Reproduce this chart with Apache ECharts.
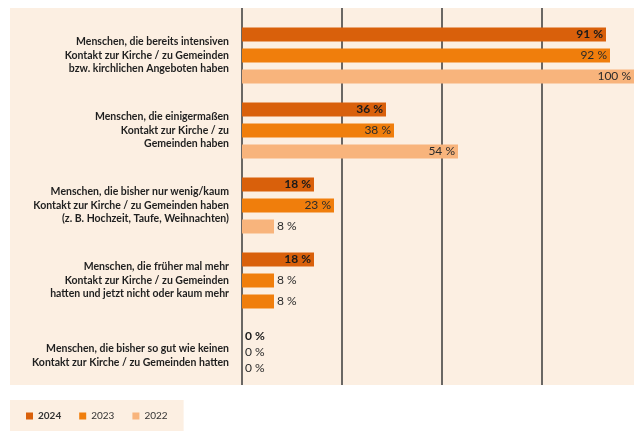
<!DOCTYPE html>
<html>
<head>
<meta charset="utf-8">
<script src="https://cdn.jsdelivr.net/npm/echarts@6/dist/echarts.min.js"></script>
<style>
  html, body { margin: 0; padding: 0; background: #fff; }
  #graph { width: 634px; height: 431px; }
</style>
</head>
<body>
<div id="graph"></div>
<script>
var categories = [
  'Menschen, die bereits intensiven\nKontakt zur Kirche / zu Gemeinden\nbzw. kirchlichen Angeboten haben',
  'Menschen, die einigermaßen\nKontakt zur Kirche / zu\nGemeinden haben',
  'Menschen, die bisher nur wenig/kaum\nKontakt zur Kirche / zu Gemeinden haben\n(z. B. Hochzeit, Taufe, Weihnachten)',
  'Menschen, die früher mal mehr\nKontakt zur Kirche / zu Gemeinden\nhatten und jetzt nicht oder kaum mehr',
  'Menschen, die bisher so gut wie keinen\nKontakt zur Kirche / zu Gemeinden hatten'
];
var years = ['2024', '2023', '2022'];
var values2024 = [91, 36, 18, 18, 0];
var values2023 = [92, 38, 23, 8, 0];
var values2022 = [100, 54, 8, 8, 0];

var dom = document.getElementById('graph');
var myChart = echarts.init(dom);
var colors = ['#d9600b', '#f07e0c', '#f8b47c'];
var font = 'Lato, "Noto Sans", sans-serif';
// die Vorlage ist rechts abgeschnitten: sichtbar ist nur 0..98 %
var axisMax = 98;

function makeData(vals, idx) {
  return vals.map(function (v, i) {
    var item = { value: v };
    if (v < 15) {
      item.label = { position: 'right', distance: 3 };
    }
    if (v === 0) {
      // die 0-%-Beschriftungen stehen enger beieinander
      item.label.offset = [0, 2 - idx * 5];
    }
    // in der Vorlage ist dieser 2022-Balken wie 2023 eingefärbt
    if (idx === 2 && i === 3) {
      item.itemStyle = { color: colors[1] };
    }
    return item;
  });
}

function makeSeries(name, vals, idx) {
  return {
    name: name,
    type: 'bar',
    xAxisIndex: 0,
    yAxisIndex: 0,
    barWidth: 14,
    barGap: '50%',
    itemStyle: { color: colors[idx] },
    label: {
      show: true,
      position: 'insideRight',
      distance: 3,
      formatter: '{c} %',
      fontFamily: font,
      fontSize: 12,
      fontWeight: idx === 0 ? 'bold' : 'normal',
      color: idx === 0 ? '#1a1a1a' : '#2b2b2b'
    },
    data: makeData(vals, idx)
  };
}

var option = {
  animation: false,
  backgroundColor: '#ffffff',
  graphic: [{
    type: 'rect',
    left: 10, top: 8,
    shape: { width: 624, height: 377 },
    style: { fill: '#fcefe2' },
    z: -10
  }],
  legend: {
    left: 10,
    top: 400,
    padding: [11, 16, 11, 16],
    backgroundColor: '#fcefe2',
    icon: 'rect',
    itemWidth: 7,
    itemHeight: 7,
    itemGap: 18,
    textStyle: { fontFamily: font, fontSize: 10, color: '#333' },
    data: [
      { name: '2024', textStyle: { fontWeight: 'bold' } },
      { name: '2023' },
      { name: '2022' }
    ]
  },
  grid: [
    { left: 242, right: 0, top: 18, bottom: 38 },
    { left: 242, right: 0, top: 8, bottom: 46 }
  ],
  xAxis: [{
    gridIndex: 0,
    type: 'value',
    min: 0, max: axisMax, interval: 25,
    show: false
  }, {
    gridIndex: 1,
    type: 'value',
    min: 0, max: axisMax, interval: 25,
    axisLine: { show: false },
    axisTick: { show: false },
    axisLabel: { show: false },
    splitLine: {
      show: true, showMinLine: true, showMaxLine: false,
      lineStyle: { color: '#3a3a3a', width: 1.5 }
    }
  }],
  yAxis: [{
    gridIndex: 0,
    type: 'category',
    inverse: true,
    data: categories,
    axisLine: { show: false },
    axisTick: { show: false },
    axisLabel: {
      margin: 13,
      fontFamily: font,
      fontSize: 10.5,
      fontWeight: 'bold',
      lineHeight: 13.5,
      color: '#1f1f1f',
      align: 'right'
    }
  }, {
    gridIndex: 1,
    type: 'category',
    data: [''],
    show: false
  }],
  series: [
    makeSeries(years[0], values2024, 0),
    makeSeries(years[1], values2023, 1),
    makeSeries(years[2], values2022, 2)
  ]
};

myChart.setOption(option);
</script>
</body>
</html>
